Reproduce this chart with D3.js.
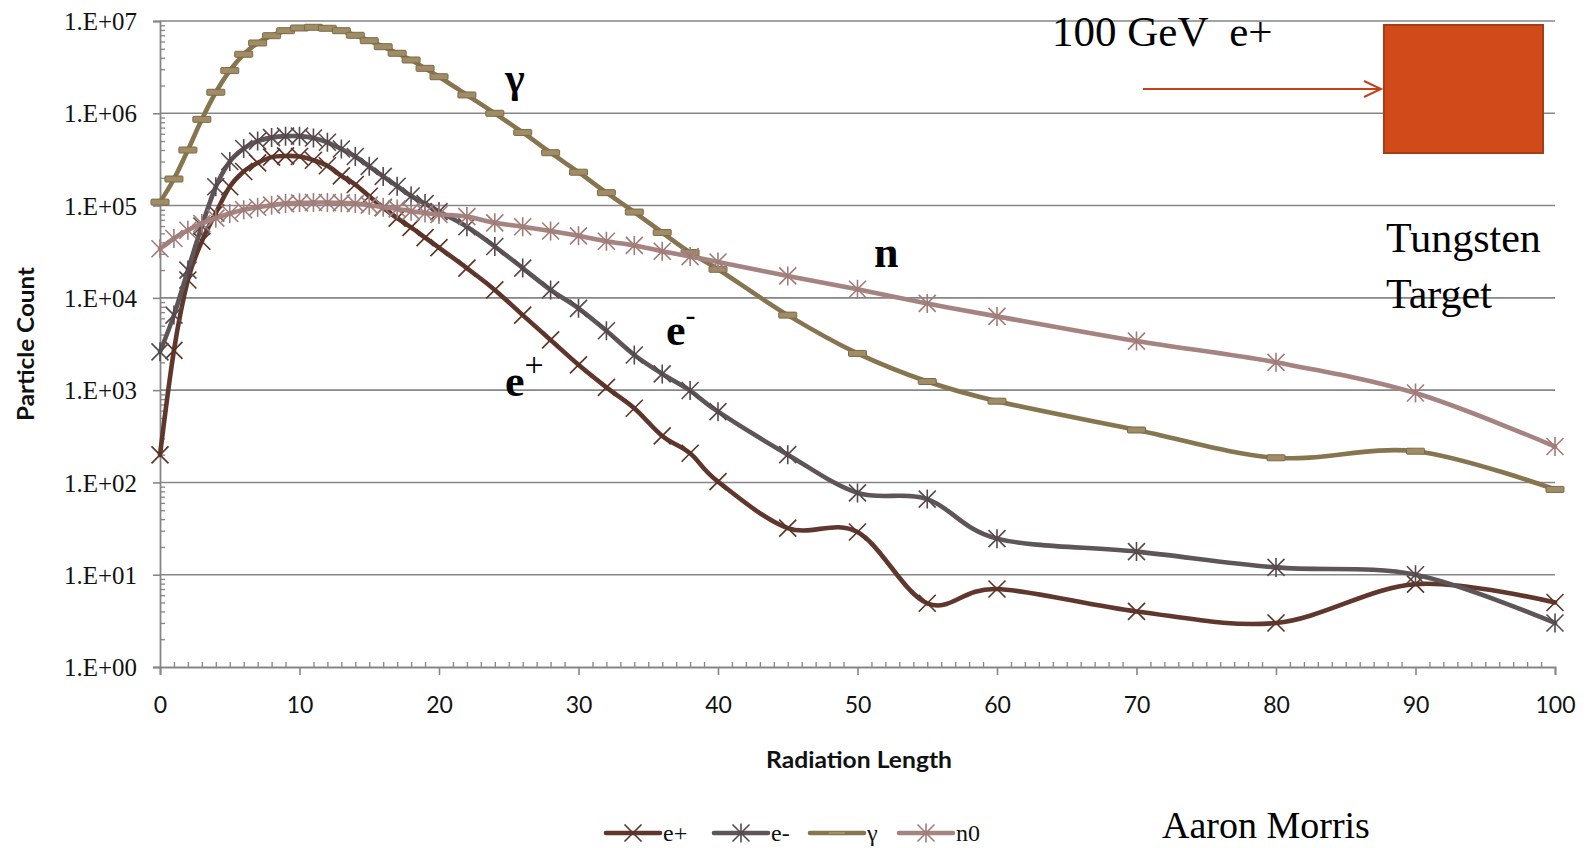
<!DOCTYPE html>
<html><head><meta charset="utf-8">
<script src="https://cdn.jsdelivr.net/npm/d3@7"></script>
<style>html,body{margin:0;padding:0;background:#fff;}svg{display:block;}</style>
</head><body>
<svg id="chart" width="1588" height="848"></svg>
<script>
// ---- data ----
const radLength = [0,1,2,3,4,5,6,7,8,9,10,11,12,13,14,15,16,17,18,19,20,22,24,26,28,30,32,34,36,38,40,45,50,55,60,70,80,90,100];
const ePlus = [199,2700,15600,41000,83000,160000,234000,290000,335000,345000,340000,310000,270000,210000,169000,126000,95000,73000,58000,45000,35000,21000,12200,6500,3500,1880,1070,637,319,207,102,32,29,4.9,7.0,4.0,3.0,7.9,5.0];
const eMinus = [2600,6500,20000,60000,160000,300000,415000,500000,545000,565000,565000,540000,485000,410000,340000,266000,207000,162000,127000,105000,86000,59000,36000,21000,12200,7700,4400,2400,1500,990,585,200,77,66,24.6,17.8,12,10,3.0];
const gamma = [109000,194000,400000,860000,1690000,2900000,4360000,5780000,6930000,7850000,8400000,8550000,8340000,7850000,7000000,6120000,5270000,4470000,3780000,3070000,2490000,1580000,1000000,620000,374000,230000,138000,85000,51000,31000,20400,6500,2500,1240,760,370,185,218,84];
const n0 = [34000,44000,54000,64000,73000,82000,90000,96000,101000,105000,107000,108000,108000,107000,105000,101000,96000,92000,87000,83000,80000,76000,65000,59000,53000,47000,41000,37000,32000,28000,24500,17300,12400,8700,6300,3400,2000,930,245];
const seriesNames = ["e+","e-","γ","n0"];
const xTicks = [0,10,20,30,40,50,60,70,80,90,100];
const yTicks = [1,10,100,1000,10000,100000,1000000,10000000];
const xTitle = "Radiation Length";
const yTitle = "Particle Count";

// ---- setup ----
const svg = d3.select("#chart");
const x = d3.scaleLinear().domain([0,100]).range([160,1555]);
const y = d3.scaleLog().domain([1,1e7]).range([667,21]);
const serif = "'Liberation Serif','Times New Roman',serif";
const sans = "Lato,'Open Sans',sans-serif";
const gridColor = "#868686";

const colors = {"e+":"#5f372c","e-":"#5d5558","γ":"#877550","n0":"#a58381"};
const markerColors = {"e+":"#5a3326","e-":"#56494c","γ":"#a08d66","n0":"#a07c79"};
const markerType = {"e+":"x","e-":"star","γ":"dash","n0":"star"};
const dataBy = {"e+":ePlus,"e-":eMinus,"γ":gamma,"n0":n0};

// gridlines
svg.append("g").selectAll("line").data(yTicks.slice(1)).join("line")
  .attr("x1",x(0)).attr("x2",x(100)).attr("y1",d=>y(d)).attr("y2",d=>y(d))
  .attr("stroke",gridColor).attr("stroke-width",1.6);

// y axis major
const yAxis = svg.append("g").attr("transform",`translate(${x(0)},0)`)
  .call(d3.axisLeft(y).tickValues(yTicks).tickSize(7).tickPadding(16)
    .tickFormat(d=>"1.E+"+String(Math.round(Math.log10(d))).padStart(2,"0")));
yAxis.select(".domain").attr("stroke",gridColor).attr("stroke-width",1.8);
yAxis.selectAll(".tick line").attr("stroke",gridColor).attr("stroke-width",1.6);
yAxis.selectAll(".tick text").attr("font-family",serif).attr("font-size",24.5).attr("fill","#111")
  .attr("dy","0.35em").attr("textLength",73).attr("lengthAdjust","spacingAndGlyphs");
// y minor ticks
const yMinor = [];
for (let e=0;e<7;e++) for (let k=2;k<=9;k++) yMinor.push(k*Math.pow(10,e));
const yMin = svg.append("g").attr("transform",`translate(${x(0)},0)`)
  .call(d3.axisRight(y).tickValues(yMinor).tickSize(5).tickFormat(""));
yMin.select(".domain").remove();
yMin.selectAll(".tick line").attr("stroke",gridColor).attr("stroke-width",1.3);

// x axis
const xAxis = svg.append("g").attr("transform",`translate(0,${y(1)})`)
  .call(d3.axisBottom(x).tickValues(xTicks).tickSize(8).tickPadding(22));
xAxis.select(".domain").attr("stroke",gridColor).attr("stroke-width",1.8);
xAxis.selectAll(".tick line").attr("stroke",gridColor).attr("stroke-width",1.6);
xAxis.selectAll(".tick text").attr("font-family",sans).attr("font-size",23).attr("fill","#111");
const xMin = svg.append("g").attr("transform",`translate(0,${y(1)})`)
  .call(d3.axisTop(x).tickValues(d3.range(1,100).filter(v=>v%10!==0)).tickSize(5).tickFormat(""));
xMin.select(".domain").remove();
xMin.selectAll(".tick line").attr("stroke",gridColor).attr("stroke-width",1.3);

// axis titles
svg.append("text").attr("x",859).attr("y",768).attr("text-anchor","middle")
  .attr("font-family",sans).attr("font-weight","bold").attr("font-size",23).attr("fill","#111")
  .attr("textLength",186).attr("lengthAdjust","spacingAndGlyphs").text(xTitle);
svg.append("text").attr("transform","translate(34,344) rotate(-90)").attr("text-anchor","middle")
  .attr("font-family",sans).attr("font-weight","bold").attr("font-size",23).attr("fill","#111")
  .attr("textLength",154).attr("lengthAdjust","spacingAndGlyphs").text(yTitle);

// marker drawing
function drawMarker(g, type, color){
  const s = 8.5;
  if (type==="dash"){
    g.append("rect").attr("x",-9).attr("y",-3).attr("width",18).attr("height",6).attr("rx",1)
      .attr("fill",color).attr("stroke","#7b6a46").attr("stroke-width",1);
  } else {
    let p = `M${-s},${-s}L${s},${s}M${-s},${s}L${s},${-s}`;
    if (type==="star") p += `M0,${-s-1}L0,${s+1}`;
    g.append("path").attr("d",p).attr("stroke",color).attr("stroke-width",1.6).attr("fill","none");
  }
}

const line = d3.line().x(d=>x(d[0])).y(d=>y(d[1])).curve(d3.curveCardinal.tension(0));

seriesNames.forEach(name=>{
  const pts = radLength.map((r,i)=>[r,dataBy[name][i]]);
  const g = svg.append("g");
  g.append("path").attr("d",line(pts)).attr("fill","none")
    .attr("stroke",colors[name]).attr("stroke-width",4.6).attr("stroke-linejoin","round").attr("stroke-linecap","round");
  pts.forEach(p=>{
    const m = g.append("g").attr("transform",`translate(${x(p[0])},${y(p[1])})`);
    drawMarker(m, markerType[name], markerColors[name]);
  });
});

// annotations
const ann = svg.append("g").attr("font-family",serif).attr("fill","#000");
ann.append("text").attr("x",505).attr("y",92).attr("font-size",42).attr("font-weight","bold").text("γ");
ann.append("text").attr("x",874).attr("y",267).attr("font-size",44).attr("font-weight","bold").text("n");
const ep = ann.append("text").attr("x",505).attr("y",396).attr("font-size",44).attr("font-weight","bold");
ep.append("tspan").text("e");
ep.append("tspan").attr("dy",-20).attr("font-size",34).attr("font-weight","normal").text("+");
const em = ann.append("text").attr("x",666).attr("y",345).attr("font-size",44).attr("font-weight","bold");
em.append("tspan").text("e");
em.append("tspan").attr("dy",-20).attr("font-size",30).attr("font-weight","normal").text("-");
ann.append("text").attr("x",1052).attr("y",46).attr("font-size",43).attr("xml:space","preserve").text("100 GeV  e+");
ann.append("text").attr("x",1386).attr("y",252).attr("font-size",42).text("Tungsten");
ann.append("text").attr("x",1386).attr("y",308).attr("font-size",42).text("Target");
ann.append("text").attr("x",1162).attr("y",838).attr("font-size",38).text("Aaron Morris");

// target and beam arrow
svg.append("rect").attr("x",1384).attr("y",25).attr("width",159).attr("height",128)
  .attr("fill","#d14a19").attr("stroke","#a83a14").attr("stroke-width",2);
svg.append("line").attr("x1",1143).attr("x2",1381).attr("y1",89).attr("y2",89)
  .attr("stroke","#c2421a").attr("stroke-width",2);
svg.append("path").attr("d","M1364,81L1381,89L1364,97").attr("fill","none")
  .attr("stroke","#c2421a").attr("stroke-width",2);

// legend
const legendX = [606,714,810,899];
const lg = svg.append("g");
seriesNames.forEach((name,i)=>{
  const g = lg.append("g").attr("transform",`translate(${legendX[i]},833)`);
  g.append("line").attr("x1",0).attr("x2",54).attr("y1",0).attr("y2",0)
    .attr("stroke",colors[name]).attr("stroke-width",4.6).attr("stroke-linecap","round");
  const m = g.append("g").attr("transform","translate(27,0)");
  if (markerType[name]==="dash"){
    m.append("rect").attr("x",-8).attr("y",-1).attr("width",16).attr("height",2).attr("fill","#a39068");
  } else drawMarker(m, markerType[name], markerColors[name]);
  g.append("text").attr("x",57).attr("y",8).attr("font-family",serif).attr("font-size",24).attr("fill","#111").text(name);
});
</script>
</body></html>
